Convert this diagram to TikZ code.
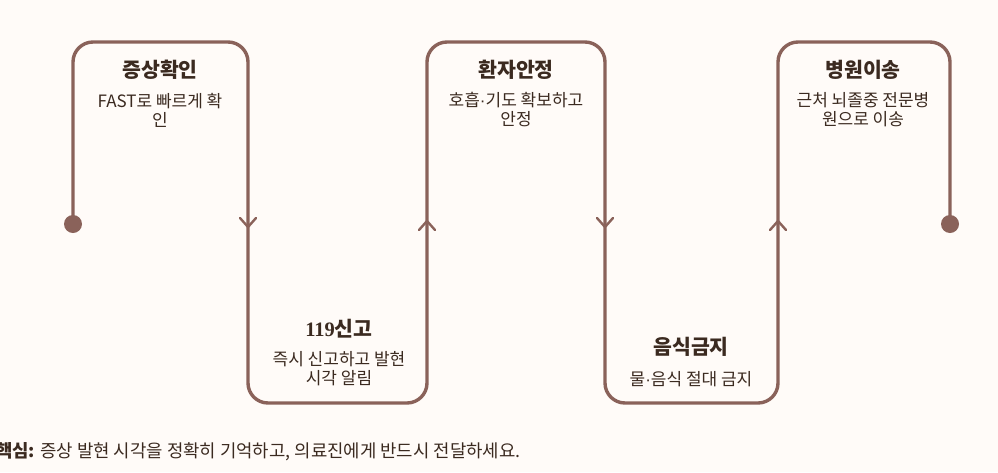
\documentclass[tikz,border=0pt]{standalone}
\usepackage{fontspec}
\setmainfont{Noto Sans CJK KR}
\newfontfamily\numfont{Liberation Serif}
\newfontfamily\dotfont{Liberation Sans}
\usetikzlibrary{calc}
\definecolor{bgc}{HTML}{FFFBF8}
\definecolor{linec}{HTML}{8A625A}
\definecolor{txtc}{HTML}{3B2A20}
\newcommand{\mdot}{{\dotfont ·}}
\begin{document}
\begin{tikzpicture}[x=1pt,y=-1pt,
  flow/.style={draw=linec,line width=3.4pt,rounded corners=20pt},
  chev/.style={draw=linec,line width=2.4pt,line cap=round,line join=round},
  ttl/.style={text=txtc,font=\fontsize{20.5}{24}\selectfont\bfseries,anchor=center,inner sep=0pt},
  sub/.style={text=txtc,font=\fontsize{17}{19}\selectfont,align=center,anchor=center,inner sep=0pt}]
\fill[bgc] (0,0) rectangle (998,472);
\useasboundingbox (0,0) rectangle (998,472);
\coordinate (s) at (73,224);
\coordinate (e) at (950,224);
\draw[flow] (s) -- (73,42) -- (248,42) -- (248,403) -- (427,403) -- (427,42) -- (605,42) -- (605,403) -- (778,403) -- (778,42) -- (950,42) -- (e);
\fill[linec] (s) circle (9);
\fill[linec] (e) circle (9);
% chevrons
\coordinate (a1) at (248,227);
\coordinate (a2) at (427,221);
\coordinate (a3) at (605,227);
\coordinate (a4) at (778,221);
\draw[chev] ($(a1)+(-8,-9)$) -- (a1) -- ($(a1)+(8,-9)$);
\draw[chev] ($(a2)+(-8,9)$) -- (a2) -- ($(a2)+(8,9)$);
\draw[chev] ($(a3)+(-8,-9)$) -- (a3) -- ($(a3)+(8,-9)$);
\draw[chev] ($(a4)+(-8,9)$) -- (a4) -- ($(a4)+(8,9)$);
% texts
\node[ttl] (t1) at (160,70) {증상확인};
\node[sub] (d1) at (160,110) {FAST로 빠르게 확\\인};
\node[ttl] (t2) at (339,329) {{\numfont 119}신고};
\node[sub] (d2) at (339,368.5) {즉시 신고하고 발현\\시각 알림};
\node[ttl] (t3) at (516,70) {환자안정};
\node[sub] (d3) at (516,110) {호흡\mdot 기도 확보하고\\안정};
\node[ttl] (t4) at (691,347) {음식금지};
\node[sub] (d4) at (691,379) {물\mdot 음식 절대 금지};
\node[ttl] (t5) at (863,70) {병원이송};
\node[sub] (d5) at (863,110) {근처 뇌졸중 전문병\\원으로 이송};
\node[text=txtc,font=\fontsize{17.8}{20}\selectfont,anchor=west,inner sep=0pt] (k) at (-4,452) {\textbf{핵심:} 증상 발현 시각을 정확히 기억하고, 의료진에게 반드시 전달하세요.};
\end{tikzpicture}
\end{document}
